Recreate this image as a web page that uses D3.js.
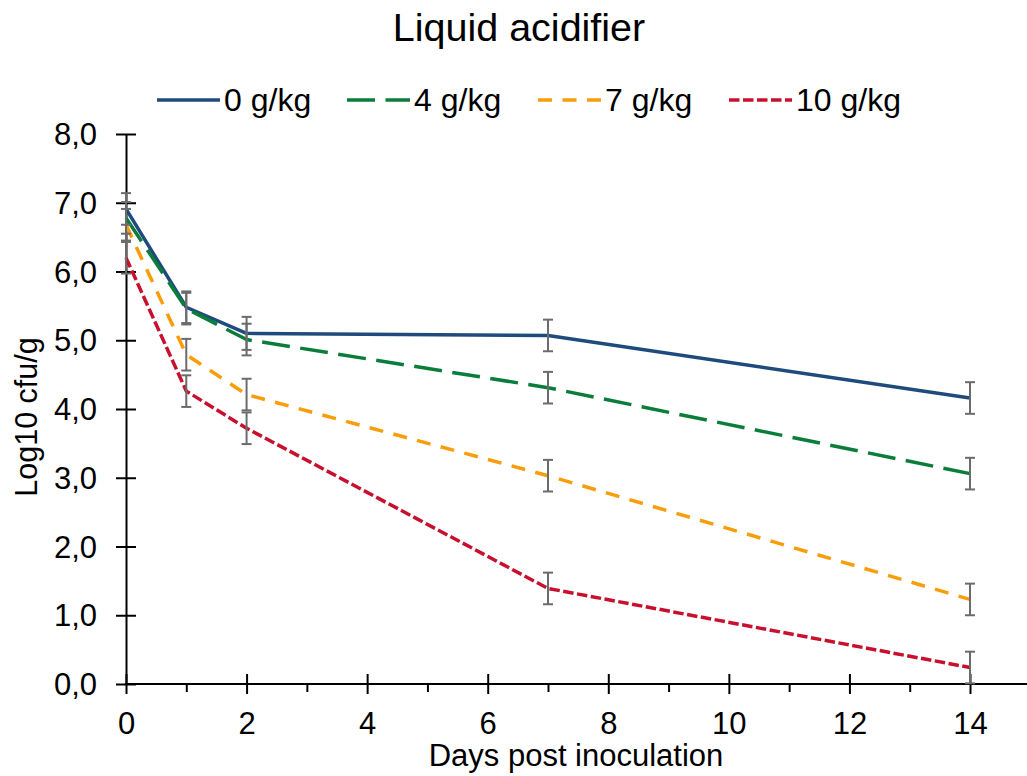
<!DOCTYPE html>
<html>
<head>
<meta charset="utf-8">
<script src="https://cdn.jsdelivr.net/npm/d3@7"></script>
<style>
  html, body { margin: 0; padding: 0; background: #fff; }
  svg { display: block; font-family: Arial, "Liberation Sans", sans-serif; }
</style>
</head>
<body>
<script>
// Chart data
var days = [0, 1, 2, 7, 14];
var seriesNames = ["0 g/kg", "4 g/kg", "7 g/kg", "10 g/kg"];
var values0 = [6.91, 5.48, 5.10, 5.07, 4.16];
var values4 = [6.78, 5.46, 5.01, 4.31, 3.06];
var values7 = [6.68, 4.79, 4.21, 3.03, 1.23];
var values10 = [6.20, 4.26, 3.72, 1.39, 0.24];
var errors0 = [0.23, 0.23, 0.24, 0.23, 0.23];
var errors4 = [0.23, 0.23, 0.23, 0.23, 0.23];
var errors7 = [0.23, 0.23, 0.23, 0.23, 0.23];
var errors10 = [0.23, 0.23, 0.23, 0.23, 0.23];
var yTicks = [0, 1, 2, 3, 4, 5, 6, 7, 8];
var xTicks = [0, 2, 4, 6, 8, 10, 12, 14];
var xMinorTicks = [1, 3, 5, 7, 9, 11, 13];

var colors = ["#1f4a7c", "#0a7d3a", "#f99d0a", "#c8102e"];
var dashes = ["none", "28,10.5", "14,10.5", "10.5,3.5"];

var width = 1027;
var height = 776;

var svg = d3.select("body").append("svg")
    .attr("width", width)
    .attr("height", height);

var x = d3.scaleLinear().domain([0, 14]).range([126, 970]);
var y = d3.scaleLinear().domain([0, 8]).range([684, 134]);

var series = [
    { name: seriesNames[0], values: values0, errors: errors0 },
    { name: seriesNames[1], values: values4, errors: errors4 },
    { name: seriesNames[2], values: values7, errors: errors7 },
    { name: seriesNames[3], values: values10, errors: errors10 }
];

var fmt = function(d) { return d3.format(".1f")(d).replace(".", ","); };

// Title
svg.append("text")
    .attr("x", 519)
    .attr("y", 41)
    .attr("text-anchor", "middle")
    .attr("font-size", "39.5px")
    .attr("fill", "#000")
    .text("Liquid acidifier");

// Y axis
var yAxis = svg.append("g")
    .attr("transform", "translate(" + x(0) + ",0)")
    .call(d3.axisLeft(y).tickValues(yTicks).tickFormat(fmt).tickSizeInner(10).tickSizeOuter(0).tickPadding(19));
yAxis.select(".domain").attr("stroke", "#000").attr("stroke-width", 2);
yAxis.selectAll(".tick line").attr("x1", 10).attr("x2", -10).attr("stroke", "#000").attr("stroke-width", 2);
yAxis.selectAll(".tick text").attr("font-size", "31px").attr("font-family", "Arial, 'Liberation Sans', sans-serif").attr("fill", "#000").attr("dy", "0.34em");

// X axis (minor ticks first)
var xMinor = svg.append("g")
    .attr("transform", "translate(0," + y(0) + ")")
    .call(d3.axisBottom(x).tickValues(xMinorTicks).tickFormat("").tickSizeInner(8).tickSizeOuter(0));
xMinor.select(".domain").remove();
xMinor.selectAll(".tick line").attr("stroke", "#000").attr("stroke-width", 2);

var xAxis = svg.append("g")
    .attr("transform", "translate(0," + y(0) + ")")
    .call(d3.axisBottom(x).tickValues(xTicks).tickSizeInner(10).tickSizeOuter(0).tickPadding(18));
xAxis.select(".domain").remove();
xAxis.selectAll(".tick line").attr("y1", -10).attr("y2", 10).attr("stroke", "#000").attr("stroke-width", 2);
xAxis.selectAll(".tick text").attr("font-size", "31px").attr("font-family", "Arial, 'Liberation Sans', sans-serif").attr("fill", "#000");

// X axis line runs to the right edge
svg.append("line")
    .attr("x1", x.range()[0] - 1)
    .attr("x2", width)
    .attr("y1", y(0))
    .attr("y2", y(0))
    .attr("stroke", "#000")
    .attr("stroke-width", 2);

// Axis titles
svg.append("text")
    .attr("x", 576)
    .attr("y", 766)
    .attr("text-anchor", "middle")
    .attr("font-size", "31px")
    .attr("fill", "#000")
    .text("Days post inoculation");

svg.append("text")
    .attr("transform", "translate(37,417) rotate(-90)")
    .attr("text-anchor", "middle")
    .attr("font-size", "30.5px")
    .attr("fill", "#000")
    .text("Log10 cfu/g");

// Lines
var line = d3.line()
    .x(function(d, i) { return x(days[i]); })
    .y(function(d) { return y(d); });

svg.selectAll(".series")
    .data(series)
    .enter().append("path")
    .attr("class", "series")
    .attr("d", function(d) { return line(d.values); })
    .attr("fill", "none")
    .attr("stroke", function(d, i) { return colors[i]; })
    .attr("stroke-width", 3.5)
    .attr("stroke-dasharray", function(d, i) { return dashes[i]; })
    .attr("stroke-linejoin", "round");

// Error bars on top of the lines
series.forEach(function(s) {
    var g = svg.append("g").attr("class", "errorbars");
    s.values.forEach(function(v, i) {
        var cx = x(days[i]);
        var top = y(v + s.errors[i]);
        var bot = y(v - s.errors[i]);
        g.append("line").attr("x1", cx).attr("x2", cx).attr("y1", top).attr("y2", bot);
        g.append("line").attr("x1", cx - 5).attr("x2", cx + 5).attr("y1", top).attr("y2", top);
        g.append("line").attr("x1", cx - 5).attr("x2", cx + 5).attr("y1", bot).attr("y2", bot);
    });
    g.selectAll("line").attr("stroke", "#6b6b6b").attr("stroke-width", 2);
});

// Legend
var legendX = [157, 347, 538, 729];
var legend = svg.selectAll(".legend")
    .data(series)
    .enter().append("g")
    .attr("class", "legend")
    .attr("transform", function(d, i) { return "translate(" + legendX[i] + ",100)"; });

legend.append("line")
    .attr("x1", 0)
    .attr("x2", 63)
    .attr("y1", 0)
    .attr("y2", 0)
    .attr("stroke", function(d, i) { return colors[i]; })
    .attr("stroke-width", 3.5)
    .attr("stroke-dasharray", function(d, i) { return dashes[i]; });

legend.append("text")
    .attr("x", 67)
    .attr("y", 11)
    .attr("font-size", "32px")
    .attr("fill", "#000")
    .text(function(d) { return d.name; });
</script>
</body>
</html>
